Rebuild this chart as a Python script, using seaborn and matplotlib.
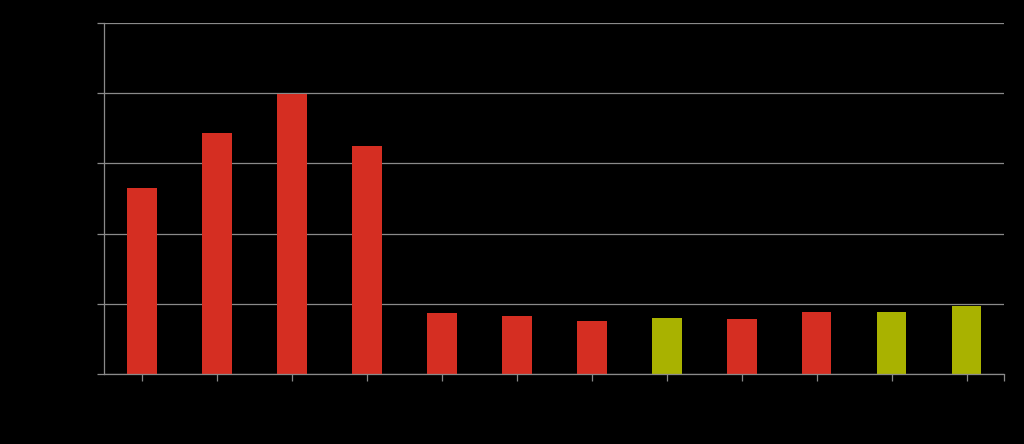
import numpy as np
import pandas as pd
import matplotlib
matplotlib.use("Agg")
import matplotlib.pyplot as plt
import seaborn as sns

# values (y axis in gridline units, 0..5)
categories = ["C1", "C2", "C3", "C4", "C5", "C6", "C7", "C8", "C9", "C10", "C11", "C12"]
values = [2.65, 3.43, 3.99, 3.25, 0.87, 0.83, 0.75, 0.80, 0.79, 0.89, 0.89, 0.97]
groups = ["red", "red", "red", "red", "red", "red", "red", "olive", "red", "red", "olive", "olive"]
y_ticks = [0, 1, 2, 3, 4, 5]

red = "#d52e22"
olive = "#a9b200"
grid_col = "#8a8a8a"

df = pd.DataFrame({"category": categories, "value": values, "group": groups})
bar_colors = [red if g == "red" else olive for g in groups]

sns.set_style("dark")
fig = plt.figure(figsize=(10.24, 4.44), dpi=100, facecolor="black")
ax = fig.add_axes([104 / 1024, 70 / 444, 900 / 1024, 351 / 444])
ax.set_facecolor("black")

sns.barplot(data=df, x="category", y="value", hue="category",
            palette=bar_colors, legend=False, width=0.4,
            saturation=1, linewidth=0, ax=ax)

ax.set_xlim(-0.5, len(categories) - 0.5)
ax.set_ylim(0, 5)
ax.set_yticks(y_ticks)
ax.set_xticks([len(categories) - 0.5], minor=True)
ax.yaxis.grid(True, color=grid_col, linewidth=0.9)
ax.xaxis.grid(False)
ax.set_axisbelow(True)

for side in ["top", "right"]:
    ax.spines[side].set_visible(False)
for side in ["left", "bottom"]:
    ax.spines[side].set_color(grid_col)
    ax.spines[side].set_linewidth(0.9)

ax.tick_params(axis="both", which="both", colors=grid_col, length=5, width=0.9,
               bottom=True, left=True, labelbottom=False, labelleft=False)
ax.set_xlabel("")
ax.set_ylabel("")

fig.savefig("out.png", dpi=100, facecolor="black")
